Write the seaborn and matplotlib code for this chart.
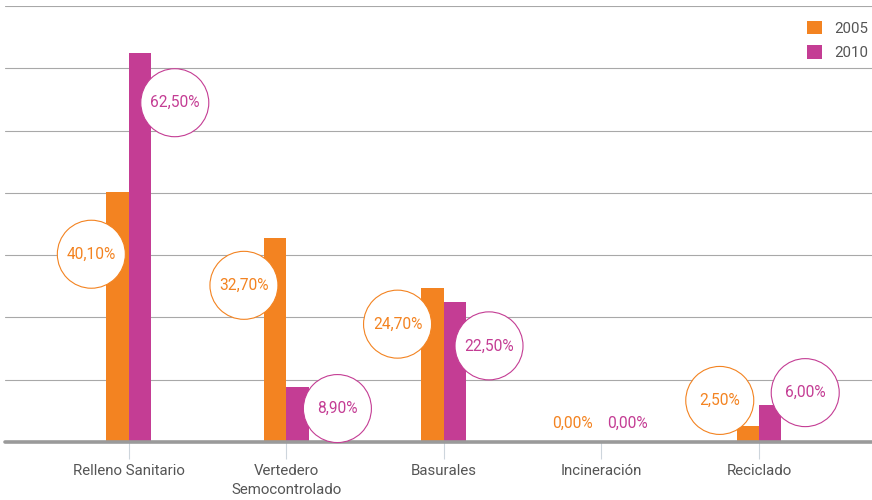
import numpy as np
import pandas as pd
import matplotlib
matplotlib.use("Agg")
import matplotlib.pyplot as plt
import seaborn as sns
from matplotlib.patches import Circle
from matplotlib.transforms import IdentityTransform

# --- data -------------------------------------------------------------
categories = ["Relleno Sanitario", "Vertedero\nSemocontrolado", "Basurales",
              "Incineración", "Reciclado"]
years = ["2005", "2010"]
share_2005 = [40.1, 32.7, 24.7, 0.0, 2.5]
share_2010 = [62.5, 8.9, 22.5, 0.0, 6.0]

# --- styling ------------------------------------------------------------
ORANGE = "#F38321"
MAGENTA = "#C43D94"
GRID = "#a8a8a8"
BASE = "#9a9a9a"
TEXT = "#555555"

# label bubble placement: pixel offset (right, down) from the top of each bar
bubble_offsets = {
    "2005": [(-26, 62), (-31, 47), (-35, 36), (-18, -19), (-28, -26)],
    "2010": [(35, 50), (40, 22), (34, 44), (15, -19), (35, -12)],
}
BUBBLE_R = 34  # px

sns.set_theme(style="white")
plt.rcParams["font.family"] = ["Roboto", "DejaVu Sans"]
FS = 10.8

df = pd.DataFrame({
    "categoria": categories * 2,
    "año": [years[0]] * len(categories) + [years[1]] * len(categories),
    "valor": share_2005 + share_2010,
})

fig = plt.figure(figsize=(8.72, 5.0), dpi=100)
ax = fig.add_axes([5 / 872, 58 / 500, 867 / 872, 436 / 500])

sns.barplot(data=df, x="categoria", y="valor", hue="año", order=categories,
            hue_order=years, palette=[ORANGE, MAGENTA], width=0.285,
            saturation=1, linewidth=0, errorbar=None, ax=ax, zorder=2)

ax.set_xlim(-0.784, 4.717)
ax.set_ylim(0, 70)
ax.set_yticks(np.arange(0, 71, 10))
ax.yaxis.grid(True, color=GRID, linewidth=0.8)
ax.set_axisbelow(True)
ax.tick_params(axis="y", left=False, labelleft=False)
ax.tick_params(axis="x", bottom=True, length=12, width=0.8, color="#cdd5dc",
               labelsize=FS, labelcolor=TEXT, pad=4)
for lab in ax.get_xticklabels():
    lab.set_linespacing(1.45)
ax.set_xlabel("")
ax.set_ylabel("")
for s in ax.spines.values():
    s.set_visible(False)
ax.axhline(0, color=BASE, linewidth=2.6, zorder=5, clip_on=False)

# value bubbles
for cont, year, color in zip(ax.containers, years, [ORANGE, MAGENTA]):
    vals = share_2005 if year == "2005" else share_2010
    for bar, (dx, dy), v in zip(cont, bubble_offsets[year], vals):
        bx = bar.get_x() + bar.get_width() / 2
        px, py = ax.transData.transform((bx, v))
        cx, cy = px + dx, py - dy
        label = f"{v:.2f}".replace(".", ",") + "%"
        if v > 0:
            circ = Circle((cx, cy), BUBBLE_R, transform=IdentityTransform(),
                          facecolor="white", edgecolor=color, linewidth=0.8,
                          zorder=4, clip_on=False)
            fig.add_artist(circ)
        fig.text(cx, cy, label, transform=IdentityTransform(), color=color,
                 fontsize=11.2, ha="center", va="center", zorder=6)

sns.move_legend(ax, "upper right", bbox_to_anchor=(0.996, 0.958),
                bbox_transform=fig.transFigure, frameon=False, title=None,
                fontsize=FS, handlelength=1.0, handleheight=1.0,
                handletextpad=0.85, labelspacing=0.62, borderpad=0,
                borderaxespad=0)
for t in ax.get_legend().get_texts():
    t.set_color(TEXT)

fig.savefig("out.png", dpi=100, facecolor="white")
